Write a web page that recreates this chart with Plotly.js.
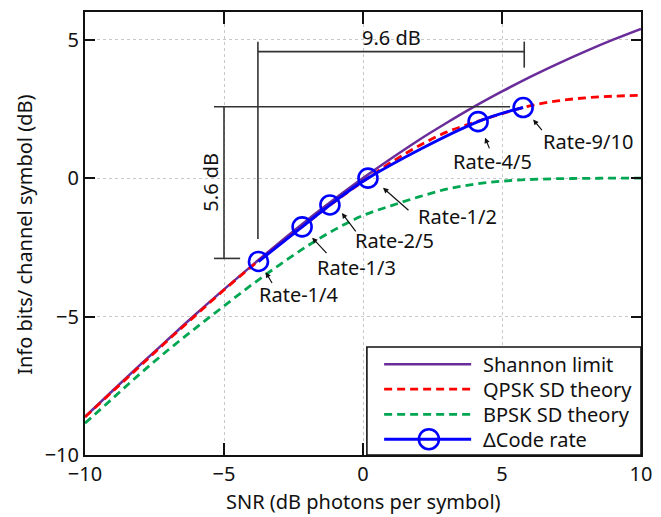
<!DOCTYPE html>
<html>
<head>
<meta charset="utf-8">
<script src="https://cdn.plot.ly/plotly-3.0.1.min.js"></script>
<style>
  html, body { margin: 0; padding: 0; background: #fff; }
  #chart { width: 661px; height: 517px; }
</style>
</head>
<body>
<div id="chart"></div>
<script>
// ---- data ----
const snr = [-10,-9,-8,-7,-6,-5,-4,-3,-2,-1,0,1,2,3,4,5,6,7,8,9,10];
const shannon = [-8.62,-7.67,-6.73,-5.81,-4.90,-4.02,-3.16,-2.32,-1.51,-0.74,0.00,0.70,1.37,1.99,2.58,3.13,3.65,4.13,4.58,5.00,5.39];
const qpsk    = [-8.63,-7.70,-6.77,-5.84,-4.94,-4.04,-3.19,-2.39,-1.61,-0.84,-0.12,0.56,1.16,1.66,2.01,2.33,2.61,2.79,2.90,2.96,2.99];
const bpsk    = [-8.85,-7.95,-7.05,-6.20,-5.40,-4.62,-3.85,-3.13,-2.45,-1.85,-1.35,-1.00,-0.68,-0.40,-0.22,-0.11,-0.05,-0.02,-0.01,0.00,0.00];
const rateSnr = [-3.76,-2.19,-1.19,0.18,4.14,5.76];
const rateDb  = [-3.01,-1.76,-0.97,0.00,2.04,2.55];
const rateLabels = ['Rate-1/4','Rate-1/3','Rate-2/5','Rate-1/2','Rate-4/5','Rate-9/10'];
const seriesNames = ['Shannon limit','QPSK SD theory','BPSK SD theory','\u0394Code rate'];
const xTicks = [-10,-5,0,5,10];
const yTicks = [-10,-5,0,5];
const xTitle = 'SNR (dB photons per symbol)';
const yTitle = 'Info bits/ channel symbol (dB)';

// ---- styling / layout config ----
const FONT = 'Noto Sans, Open Sans, sans-serif';
const colors = ['#6a2c9a','#ff0000','#00a651','#0000ff'];

const traces = [
  {x: snr, y: shannon, mode: 'lines', line: {color: colors[0], width: 2.5, shape: 'spline'}, name: seriesNames[0]},
  {x: snr, y: qpsk, mode: 'lines', line: {color: colors[1], width: 2.8, dash: '8px,5px', shape: 'spline'}, name: seriesNames[1]},
  {x: snr, y: bpsk, mode: 'lines', line: {color: colors[2], width: 2.8, dash: '8px,5px', shape: 'spline'}, name: seriesNames[2]},
  {x: rateSnr, y: rateDb, mode: 'lines+markers', line: {color: colors[3], width: 3, shape: 'spline', smoothing: 1},
   marker: {symbol: 'circle-open', size: 19, color: colors[3], line: {width: 2.6, color: colors[3]}}, name: seriesNames[3]}
];

// label text centers and arrow tail/tip positions (data units)
const labelPos = [[-2.32,-4.21],[-0.25,-3.21],[1.12,-2.24],[3.40,-1.40],[4.66,0.59],[8.11,1.31]];
const arrowTail = [[-3.24,-3.84],[-1.26,-2.76],[-0.22,-1.98],[1.69,-1.21],[4.57,1.02],[6.48,1.68]];
const arrowTip  = [[-3.50,-3.40],[-1.83,-2.15],[-0.76,-1.26],[0.72,-0.35],[4.39,1.46],[6.12,2.12]];

const annotations = [];
const shapes = [];
rateLabels.forEach((t, i) => {
  annotations.push({x: labelPos[i][0], y: labelPos[i][1], xref: 'x', yref: 'y', text: t, showarrow: false,
    font: {family: FONT, size: 20, color: '#111'}, xanchor: 'center', yanchor: 'middle'});
  annotations.push({x: arrowTip[i][0], y: arrowTip[i][1], xref: 'x', yref: 'y', axref: 'x', ayref: 'y',
    ax: arrowTail[i][0], ay: arrowTail[i][1], text: '', showarrow: true,
    arrowhead: 2, arrowsize: 0.9, arrowwidth: 1.2, arrowcolor: '#111'});
});

// dimension brackets
const dimColor = '#333';
const dimW = 1.6;
function seg(x0, y0, x1, y1) {
  shapes.push({type: 'line', xref: 'x', yref: 'y', x0, y0, x1, y1, line: {color: dimColor, width: dimW}});
}
seg(-3.78, 4.93, -3.78, -2.2);   // left leg of 9.6 dB bracket
seg(-3.78, 4.57, 5.80, 4.57);    // 9.6 dB span
seg(5.80, 4.93, 5.80, 3.99);     // right leg
seg(-5.36, 2.58, 5.29, 2.58);    // top of 5.6 dB bracket
seg(-5.00, 2.58, -5.00, -2.90);  // 5.6 dB span
seg(-5.36, -2.90, -4.42, -2.90); // bottom of 5.6 dB bracket
annotations.push({x: 1.04, y: 5.08, xref: 'x', yref: 'y', text: '9.6 dB', showarrow: false,
  font: {family: FONT, size: 20, color: '#111'}});
annotations.push({x: -5.47, y: -0.13, xref: 'x', yref: 'y', text: '5.6 dB', showarrow: false, textangle: -90,
  font: {family: FONT, size: 20, color: '#111'}});

// axis titles as annotations (exact placement)
annotations.push({x: 0.5, y: -0.106, xref: 'paper', yref: 'paper', text: xTitle, showarrow: false,
  xanchor: 'center', yanchor: 'middle', borderpad: 0, font: {family: FONT, size: 20, color: '#111'}});
annotations.push({x: -0.108, y: 0.497, xref: 'paper', yref: 'paper', text: yTitle, showarrow: false, textangle: -90,
  xanchor: 'center', yanchor: 'middle', font: {family: FONT, size: 20, color: '#111'}});

// custom legend
shapes.push({type: 'rect', xref: 'x', yref: 'y', x0: 0.14, x1: 10, y0: -10, y1: -6.10,
  line: {color: '#111', width: 1.6}, fillcolor: '#fff', layer: 'above'});
const rowY = [-6.72, -7.62, -8.53, -9.43];
const legendStyles = [
  {color: colors[0], width: 2.5, dash: 'solid'},
  {color: colors[1], width: 2.8, dash: '8px,5px'},
  {color: colors[2], width: 2.8, dash: '8px,5px'},
  {color: colors[3], width: 3, dash: 'solid'}
];
seriesNames.forEach((n, i) => {
  shapes.push({type: 'line', xref: 'x', yref: 'y', x0: 0.76, x1: 3.89, y0: rowY[i], y1: rowY[i], line: legendStyles[i]});
  annotations.push({x: 4.25, y: rowY[i], xref: 'x', yref: 'y', text: n, showarrow: false, xanchor: 'left', yanchor: 'middle',
    font: {family: FONT, size: 20, color: '#111'}});
});
shapes.push({type: 'circle', xref: 'x', yref: 'y', xsizemode: 'pixel', ysizemode: 'pixel',
  xanchor: 2.37, yanchor: rowY[3], x0: -10, x1: 10, y0: -10, y1: 10,
  line: {color: colors[3], width: 2.6}, fillcolor: 'rgba(0,0,0,0)'});

const axisCommon = {
  showline: true, linecolor: '#111', linewidth: 2, mirror: 'ticks',
  ticks: 'inside', tickwidth: 2, tickcolor: '#111',
  showgrid: true, gridcolor: '#c8c8c8', gridwidth: 1, griddash: 'dot',
  zeroline: false, tickfont: {family: FONT, size: 20, color: '#111'}
};

const layout = {
  width: 661, height: 517,
  margin: {l: 85, r: 20, t: 12, b: 62},
  paper_bgcolor: '#fff', plot_bgcolor: '#fff',
  showlegend: false,
  font: {family: FONT, color: '#111'},
  xaxis: Object.assign({}, axisCommon, {range: [-10, 10], tickvals: xTicks, ticklen: 12}),
  yaxis: Object.assign({}, axisCommon, {range: [-10, 6], tickvals: yTicks, ticklen: 10}),
  shapes, annotations
};

Plotly.newPlot('chart', traces, layout, {displayModeBar: false, staticPlot: true});
</script>
</body>
</html>
